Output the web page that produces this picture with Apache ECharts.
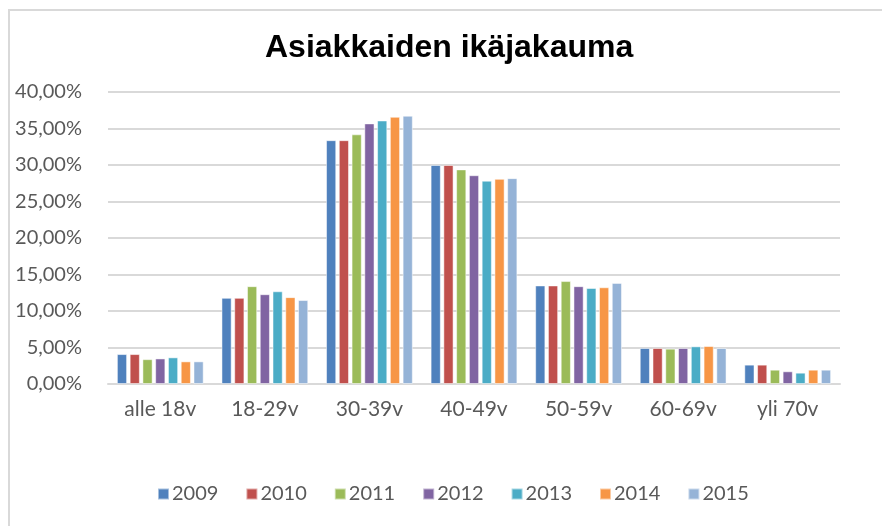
<!DOCTYPE html>
<html>
<head>
<meta charset="utf-8">
<script src="https://cdn.jsdelivr.net/npm/echarts@6/dist/echarts.min.js"></script>
<style>
  html, body { margin: 0; padding: 0; background: #fff; }
  #frame { position: absolute; left: 8px; top: 9px; width: 900px; height: 540px;
           border-left: 2px solid #d9d9d9; border-top: 2px solid #d9d9d9; }
  #chart { position: absolute; left: 0; top: 0; width: 882px; height: 526px; }
</style>
</head>
<body>
<div id="frame"></div>
<div id="chart"></div>
<script>
var categories = ['alle 18v', '18-29v', '30-39v', '40-49v', '50-59v', '60-69v', 'yli 70v'];
var years = ['2009', '2010', '2011', '2012', '2013', '2014', '2015'];
var colors = ['#4F81BD', '#C0504D', '#9BBB59', '#8064A2', '#4BACC6', '#F79646', '#95B3D7'];

var v2009 = [4.1, 11.8, 33.4, 30.0, 13.5, 4.93, 2.65];
var v2010 = [4.1, 11.8, 33.4, 30.0, 13.5, 4.93, 2.65];
var v2011 = [3.4, 13.4, 34.2, 29.4, 14.1, 4.84, 1.96];
var v2012 = [3.5, 12.3, 35.7, 28.6, 13.4, 4.93, 1.74];
var v2013 = [3.65, 12.7, 36.1, 27.85, 13.15, 5.16, 1.55];
var v2014 = [3.1, 11.9, 36.6, 28.1, 13.25, 5.2, 1.96];
var v2015 = [3.1, 11.5, 36.75, 28.2, 13.85, 4.93, 1.96];
var values = [v2009, v2010, v2011, v2012, v2013, v2014, v2015];

var font = 'Lato, "Open Sans", sans-serif';

var series = [];
for (let i = 0; i < years.length; i++) {
    series.push({
        name: years[i],
        type: 'bar',
        data: values[i],
        barGap: '25%',
        barCategoryGap: '17%',
        itemStyle: {
            color: colors[i],
            borderColor: 'rgba(255,255,255,0.5)',
            borderWidth: 1
        }
    });
}

var myChart = echarts.init(document.getElementById('chart'));
var option = {
    animation: false,
    color: colors,
    title: {
        text: 'Asiakkaiden ikäjakauma',
        left: 260,
        top: 27,
        textStyle: {
            fontFamily: '"Liberation Sans", Arial, sans-serif',
            fontSize: 32,
            fontWeight: 'bold',
            color: '#000'
        }
    },
    legend: {
        bottom: 17,
        left: 152,
        itemWidth: 11,
        itemHeight: 11,
        itemGap: 27,
        icon: 'rect',
        textStyle: {
            fontFamily: font,
            fontSize: 20,
            color: '#595959',
            padding: [0, 0, 0, -2]
        }
    },
    grid: {
        left: 108,
        right: 42,
        top: 92,
        bottom: 142
    },
    xAxis: {
        type: 'category',
        data: categories,
        axisLine: { lineStyle: { color: '#d9d9d9', width: 2 } },
        axisTick: { show: false },
        axisLabel: {
            fontFamily: font,
            fontSize: 21,
            color: '#595959',
            margin: 15
        }
    },
    yAxis: {
        type: 'value',
        min: 0,
        max: 40,
        interval: 5,
        axisLine: { show: false },
        axisTick: { show: false },
        splitLine: { lineStyle: { color: '#d9d9d9', width: 2 } },
        axisLabel: {
            fontFamily: font,
            fontSize: 20,
            color: '#595959',
            margin: 26,
            formatter: function (value) {
                return value.toFixed(2).replace('.', ',') + '%';
            }
        }
    },
    series: series
};
myChart.setOption(option);
</script>
</body>
</html>
